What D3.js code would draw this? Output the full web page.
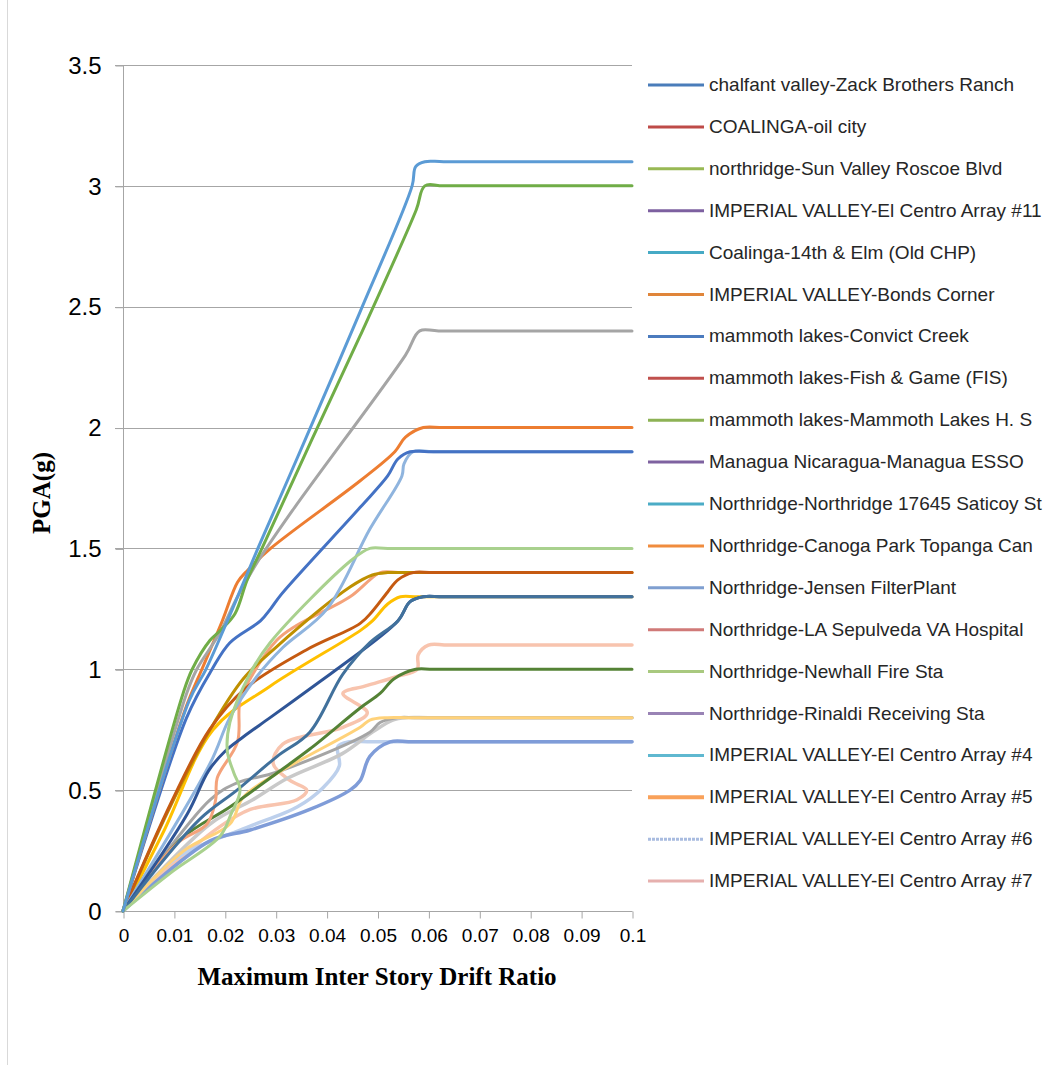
<!DOCTYPE html>
<html>
<head>
<meta charset="utf-8">
<script src="https://cdn.jsdelivr.net/npm/d3@7"></script>
<style>
  body { margin: 0; background: #fff; }
  svg { display: block; }
  .tick text { fill: #000; }
</style>
</head>
<body>
<svg id="chart" width="1055" height="1065"></svg>
<script>
// ── Data: [drift ratio, PGA(g)] ─────────────────────────────────────
var chalfant   = [[0,0],[0.0126,0.40],[0.0168,0.58],[0.0200,0.66],[0.0236,0.72],[0.0289,0.80],[0.0381,0.94],[0.042,1.0],[0.054,1.2],[0.0564,1.28],[0.059,1.3],[0.063,1.3],[0.1,1.3]];
var coalOil    = [[0,0],[0.0095,0.45],[0.017,0.75],[0.024,0.92],[0.036,1.08],[0.0466,1.19],[0.049,1.24],[0.052,1.32],[0.054,1.37],[0.057,1.40],[0.061,1.40],[0.1,1.4]];
var sunValley  = [[0,0],[0.0095,0.16],[0.0191,0.31],[0.0212,0.40],[0.0230,0.50],[0.0218,0.57],[0.0205,0.66],[0.0210,0.78],[0.0249,0.98],[0.0289,1.11],[0.0448,1.45],[0.0485,1.5],[0.052,1.5],[0.1,1.5]];
var ec11       = [[0,0],[0.009,0.42],[0.0171,0.75],[0.0236,0.96],[0.030,1.09],[0.0446,1.34],[0.049,1.39],[0.052,1.40],[0.056,1.40],[0.1,1.4]];
var coal14th   = [[0,0],[0.0151,0.38],[0.0224,0.50],[0.0303,0.64],[0.0367,0.74],[0.0432,0.98],[0.0485,1.11],[0.054,1.2],[0.0564,1.28],[0.059,1.3],[0.063,1.3],[0.1,1.3]];
var bonds      = [[0,0],[0.0125,0.85],[0.0155,1.0],[0.0195,1.2],[0.0225,1.36],[0.0245,1.41],[0.029,1.5],[0.0466,1.78],[0.0534,1.90],[0.0555,1.96],[0.059,2.0],[0.063,2.0],[0.1,2.0]];
var convict    = [[0,0],[0.013,0.87],[0.0163,1.0],[0.0205,1.2],[0.0235,1.35],[0.0265,1.5],[0.0358,1.95],[0.0466,2.48],[0.0568,3.0],[0.0575,3.08],[0.0593,3.1],[0.063,3.1],[0.1,3.1]];
var fishGame   = [[0,0],[0.0125,0.9],[0.0145,1.0],[0.019,1.15],[0.0225,1.3],[0.0263,1.44],[0.0334,1.66],[0.0555,2.30],[0.0583,2.4],[0.062,2.4],[0.1,2.4]];
var mammothHS  = [[0,0],[0.0118,0.9],[0.0136,1.0],[0.0171,1.12],[0.0191,1.16],[0.022,1.23],[0.0244,1.37],[0.0273,1.5],[0.0371,1.95],[0.0466,2.38],[0.0576,2.9],[0.0593,3.0],[0.063,3.0],[0.1,3.0]];
var managua    = [[0,0],[0.0125,0.8],[0.0175,1.0],[0.021,1.11],[0.027,1.2],[0.029,1.25],[0.0311,1.31],[0.0466,1.67],[0.052,1.80],[0.054,1.87],[0.0564,1.90],[0.060,1.90],[0.1,1.9]];
var saticoy    = [[0,0],[0.0171,0.61],[0.021,0.80],[0.0263,0.97],[0.0314,1.09],[0.0401,1.25],[0.0485,1.58],[0.0548,1.80],[0.0552,1.85],[0.057,1.90],[0.061,1.90],[0.1,1.9]];
var canoga     = [[0,0],[0.0106,0.28],[0.0165,0.36],[0.0182,0.46],[0.0185,0.55],[0.0225,0.70],[0.0230,0.87],[0.0255,0.98],[0.0302,1.12],[0.034,1.18],[0.0446,1.30],[0.0485,1.37],[0.0505,1.40],[0.055,1.40],[0.1,1.4]];
var jensen     = [[0,0],[0.008,0.33],[0.0177,0.75],[0.0289,0.93],[0.0466,1.16],[0.049,1.2],[0.052,1.27],[0.0545,1.3],[0.058,1.3],[0.1,1.3]];
var sepulveda  = [[0,0],[0.0115,0.30],[0.021,0.43],[0.0302,0.57],[0.0367,0.67],[0.0466,0.84],[0.0505,0.90],[0.0532,0.96],[0.0575,1.0],[0.061,1.0],[0.1,1.0]];
var newhall    = [[0,0],[0.012,0.25],[0.021,0.36],[0.0236,0.47],[0.0303,0.57],[0.0466,0.76],[0.0485,0.79],[0.052,0.80],[0.056,0.80],[0.1,0.8]];
var rinaldi    = [[0,0],[0.0171,0.46],[0.0224,0.53],[0.0303,0.575],[0.0485,0.74],[0.0505,0.78],[0.054,0.80],[0.058,0.80],[0.1,0.8]];
var ec4        = [[0,0],[0.0171,0.36],[0.0255,0.46],[0.0324,0.55],[0.043,0.65],[0.049,0.74],[0.053,0.79],[0.056,0.80],[0.06,0.80],[0.1,0.8]];
var ec5        = [[0,0],[0.0171,0.29],[0.025,0.335],[0.0367,0.42],[0.0446,0.50],[0.0466,0.54],[0.0485,0.64],[0.0525,0.70],[0.057,0.70],[0.1,0.7]];
var ec6        = [[0,0],[0.0106,0.22],[0.0236,0.34],[0.0342,0.43],[0.0393,0.51],[0.0425,0.60],[0.0422,0.68],[0.0445,0.70],[0.049,0.70],[0.1,0.7]];
var ec7        = [[0,0],[0.0075,0.15],[0.0191,0.35],[0.025,0.42],[0.0342,0.46],[0.0361,0.50],[0.0328,0.54],[0.0295,0.61],[0.0314,0.69],[0.0432,0.76],[0.048,0.82],[0.0432,0.90],[0.0475,0.93],[0.0538,0.97],[0.0578,1.0],[0.058,1.06],[0.060,1.10],[0.064,1.10],[0.1,1.1]];

var seriesNames = [
  "chalfant valley-Zack Brothers Ranch",
  "COALINGA-oil city",
  "northridge-Sun Valley Roscoe Blvd",
  "IMPERIAL VALLEY-El Centro Array #11",
  "Coalinga-14th & Elm (Old CHP)",
  "IMPERIAL VALLEY-Bonds Corner",
  "mammoth lakes-Convict Creek",
  "mammoth lakes-Fish & Game (FIS)",
  "mammoth lakes-Mammoth Lakes H. S",
  "Managua Nicaragua-Managua ESSO",
  "Northridge-Northridge 17645 Saticoy St",
  "Northridge-Canoga Park Topanga Can",
  "Northridge-Jensen FilterPlant",
  "Northridge-LA Sepulveda VA Hospital",
  "Northridge-Newhall  Fire Sta",
  "Northridge-Rinaldi Receiving Sta",
  "IMPERIAL VALLEY-El Centro Array #4",
  "IMPERIAL VALLEY-El Centro Array #5",
  "IMPERIAL VALLEY-El Centro Array #6",
  "IMPERIAL VALLEY-El Centro Array #7"
];
var seriesData = [chalfant, coalOil, sunValley, ec11, coal14th, bonds, convict, fishGame, mammothHS, managua,
                  saticoy, canoga, jensen, sepulveda, newhall, rinaldi, ec4, ec5, ec6, ec7];

// colours of the plotted curves
var lineColors = ["#2F5597", "#C55A11", "#A9D18E", "#BF9000", "#41719C", "#ED7D31", "#5B9BD5", "#A5A5A5", "#70AD47", "#4472C4",
                  "#8FB4DE", "#F4A27A", "#FFC000", "#548235", "#FFD27A", "#A5A5A5", "#C9C9C9", "#7F9CD8", "#BDD0EC", "#F8C4AE"];
// colours of the legend swatches
var legendColors = ["#4A7DBA", "#BE4B48", "#98B954", "#7D60A0", "#46AAC5", "#E0853A", "#4B7BBE", "#C0504D", "#8DB255", "#7E62A0",
                    "#4BACC6", "#F08C3E", "#7F9FD0", "#D07A78", "#A9C97F", "#9983B5", "#5FB8D0", "#F9A15A", "#A9BCE0", "#E6B0AE"];
var drawOrder = [19, 18, 17, 16, 15, 14, 13, 12, 11, 3, 1, 10, 0, 4, 9, 2, 5, 7, 8, 6];

var yTicks = [0, 0.5, 1, 1.5, 2, 2.5, 3, 3.5];
var xTicks = [0, 0.01, 0.02, 0.03, 0.04, 0.05, 0.06, 0.07, 0.08, 0.09, 0.1];

// ── Layout ──────────────────────────────────────────────────────────
var svg = d3.select("#chart");
var x = d3.scaleLinear().domain([0, 0.1]).range([123, 632]);
var y = d3.scaleLinear().domain([0, 3.5]).range([911, 65]);

// chart frame (left edge visible)
svg.append("line")
  .attr("x1", 7.5).attr("x2", 7.5).attr("y1", 0).attr("y2", 1065)
  .attr("stroke", "#D9D9D9");

// gridlines
svg.append("g")
  .selectAll("line")
  .data(yTicks.slice(1))
  .enter()
  .append("line")
  .attr("x1", 115).attr("x2", 632)
  .attr("y1", function (d) { return Math.round(y(d)) + 0.5; })
  .attr("y2", function (d) { return Math.round(y(d)) + 0.5; })
  .attr("stroke", "#A6A6A6").attr("stroke-width", 1);

// y axis
var yAxis = svg.append("g")
  .attr("transform", "translate(123.5,0.5)")
  .call(d3.axisLeft(y).tickValues(yTicks).tickSize(8).tickPadding(14)
    .tickFormat(function (d) { return String(d); }));
yAxis.selectAll("path,line").attr("stroke", "#A6A6A6");
yAxis.select(".domain").attr("d", "M-8," + y(0) + "H0V" + y(3.5));
yAxis.selectAll("text").style("font", "24px 'Liberation Sans', Arial, sans-serif");

// x axis
var xAxis = svg.append("g")
  .attr("transform", "translate(0.5," + (Math.round(y(0)) + 0.5) + ")")
  .call(d3.axisBottom(x).tickValues(xTicks).tickSize(7).tickPadding(10)
    .tickFormat(function (d) { return String(d); }));
xAxis.selectAll("path,line").attr("stroke", "#A6A6A6");
xAxis.select(".domain").attr("d", "M" + x(0) + ",0H" + x(0.1));
xAxis.selectAll("text").style("font", "19px 'Liberation Sans', Arial, sans-serif");

// ── Curves ──────────────────────────────────────────────────────────
var line = d3.line()
  .x(function (d) { return x(d[0]); })
  .y(function (d) { return y(d[1]); })
  .curve(d3.curveCatmullRom.alpha(0.5));

svg.append("g")
  .selectAll("path")
  .data(drawOrder)
  .enter()
  .append("path")
  .attr("d", function (i) { return line(seriesData[i]); })
  .attr("fill", "none")
  .attr("stroke", function (i) { return lineColors[i]; })
  .attr("stroke-width", function (i) { return (i >= 16) ? 3.5 : 3; })
  .attr("stroke-linejoin", "round")
  .attr("stroke-linecap", "round");

// ── Axis titles ─────────────────────────────────────────────────────
svg.append("text")
  .attr("x", 377).attr("y", 985)
  .attr("text-anchor", "middle")
  .style("font", "bold 25px 'Liberation Serif', 'Times New Roman', serif")
  .text("Maximum Inter Story Drift Ratio");

svg.append("text")
  .attr("transform", "translate(50,493) rotate(-90)")
  .attr("text-anchor", "middle")
  .style("font", "bold 25px 'Liberation Serif', 'Times New Roman', serif")
  .text("PGA(g)");

// ── Legend ──────────────────────────────────────────────────────────
var legend = svg.append("g")
  .selectAll("g")
  .data(seriesNames)
  .enter()
  .append("g")
  .attr("transform", function (d, i) { return "translate(648," + (85 + i * 41.9) + ")"; });

legend.append("line")
  .attr("x1", 0).attr("x2", 56).attr("y1", 0).attr("y2", 0)
  .attr("stroke", function (d, i) { return legendColors[i]; })
  .attr("stroke-width", function (d, i) { return i === 17 ? 4 : 3; })
  .attr("stroke-dasharray", function (d, i) { return i === 18 ? "3,1" : null; });

legend.append("text")
  .attr("x", 61).attr("y", 6)
  .style("font", "19px 'Liberation Sans', Arial, sans-serif")
  .attr("fill", "#262626")
  .text(function (d) { return d; });
</script>
</body>
</html>
